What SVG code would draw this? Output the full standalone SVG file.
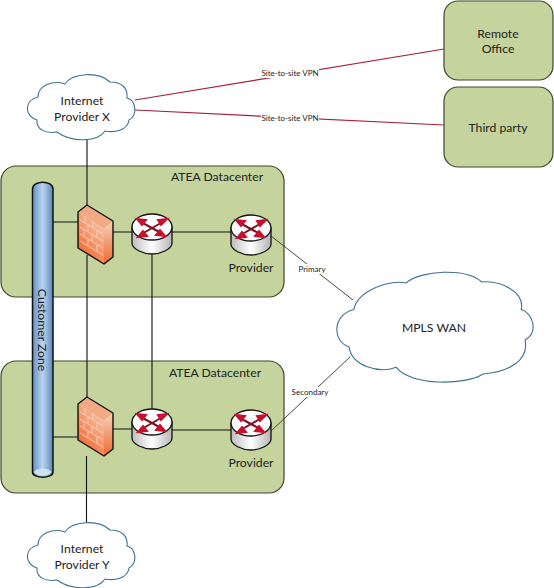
<svg xmlns="http://www.w3.org/2000/svg" width="554" height="588" viewBox="0 0 554 588">
<style>
.box{fill:#c4d49c;stroke:#3c4630;stroke-width:1.2}
.t{font-family:"Lato","Liberation Sans",sans-serif;font-size:12.2px;fill:#222;text-anchor:middle}
.s{font-family:"Lato","Liberation Sans",sans-serif;font-size:8px;fill:#1c1c1c;text-anchor:middle}
.k{fill:none;stroke:#111;stroke-width:1.1}
.r{fill:none;stroke:#a8203a;stroke-width:1.2}
.g{fill:none;stroke:#333;stroke-width:.9}
.lb{fill:#fff}
.cloud{fill:#fff;stroke:#3d7391;stroke-width:1.1}
.ar{stroke:#c8102e;stroke-width:2;fill:#c8102e}
</style>
<defs>
<linearGradient id="cyl" x1="0" x2="1" y1="0" y2="0"><stop offset="0" stop-color="#5f90c6"/><stop offset=".5" stop-color="#bcd5ee"/><stop offset="1" stop-color="#5a88ba"/></linearGradient>
<linearGradient id="rb" x1="0" x2="1" y1="0" y2="0"><stop offset="0" stop-color="#bdbdbd"/><stop offset=".5" stop-color="#fff"/><stop offset="1" stop-color="#b5b5b5"/></linearGradient>
<linearGradient id="fw" gradientUnits="userSpaceOnUse" x1="76" y1="250" x2="112" y2="222"><stop offset="0" stop-color="#f1642f"/><stop offset=".45" stop-color="#f59a6e"/><stop offset="1" stop-color="#efd9c6"/></linearGradient>
<linearGradient id="fw2g" gradientUnits="userSpaceOnUse" x1="109" y1="222" x2="109" y2="264"><stop offset="0" stop-color="#f3cfb6"/><stop offset="1" stop-color="#f0682f"/></linearGradient>
<g id="router">
<path d="M-20,-7 V9 C-20,15 -9,20 0,20 C9,20 20,15 20,9 V-7 Z" fill="url(#rb)" stroke="#111" stroke-width="1.3"/>
<ellipse cx="0" cy="-7" rx="20" ry="13" fill="#fff" stroke="#111" stroke-width="1.3"/>
<g class="ar">
<path d="M-13,-13 L11,0" fill="none" stroke="#7a1020"/><path d="M14,-14 L-12,1" fill="none" stroke="#7a1020"/>
<path d="M-15,-15 L-6,-14 L-10,-9 Z"/><path d="M13,2 L4,1 L8,-4 Z"/><path d="M15,-15 L6,-14 L9,-9 Z"/><path d="M-14,3 L-5,2 L-9,-3 Z"/>
</g>
</g>
<g id="firewall">
<path d="M78,212 L104,228 L104,264 L78,248 Z" fill="url(#fw)"/>
<path d="M78,212 L87,205 L113,221 L104,228 Z" fill="#f4a884"/>
<path d="M104,228 L113,221 L113,257 L104,264 Z" fill="url(#fw2g)"/>
<path d="M80,220 L103,234 M80,227 L103,241 M80,234 L103,248 M80,241 L103,255 M85,216 V223 M93,221 V228 M88,225 V232 M97,231 V238 M84,229 V236 M92,234 V241 M88,239 V246 M97,245 V252" fill="none" stroke="#fbd9c4" stroke-width=".8"/>
<path d="M78,212 L87,205 L113,221 L113,257 L104,264 L78,248 Z" fill="none" stroke="#111" stroke-width="1.4" stroke-linejoin="round"/>
</g>
<path id="c1" d="M9,35 C11,18 28,8 35.5,11.5 C43,0 66,-2 74,10.6 C84,9 96,20 94,35 C100,38 103,55 96,62 C98,80 88,90 74.6,92 C66,102 38,103 30.5,86 C22,92 8,85 6.6,68 C-2,63 -2,40 9,35 Z" vector-effect="non-scaling-stroke"/>
<path id="c2" d="M38,97 C38,85 53,80 65,84 C72,73 98,71 110,82 C122,82 128,88 127,98 C136,100 138,115 129,120 C128,130 115,133 105,131 C98,142 72,143 57,132 C45,134 36,129 37,120 C24,116 24,100 38,97 Z"/>
</defs>

<g id="dc1"><rect class="box" x="1" y="166" width="283" height="131" rx="15"/><text class="t" x="217" y="181">ATEA Datacenter</text></g>
<g id="dc2"><rect class="box" x="1" y="361" width="283" height="132" rx="15"/><text class="t" x="215" y="377">ATEA Datacenter</text></g>

<g id="connectors">
<path class="k" d="M87,139 V205 M87,255 V397 M86.500,456 V524 M53,222 H78 M113,232 H132 M172,232 H231 M152,255 V409 M53,437 H78 M113,429 H132 M172,430 H231"/>
<path class="g" d="M271,236 L353,300 M271,431 L350,357"/>
<path class="r" d="M135,100 L444,49 M135,110 L444,125"/>
</g>

<g id="customer-zone">
<path d="M32.500,189 C32.500,180 53,180 53,189 V472 C53,479 32.500,479 32.500,472 Z" fill="url(#cyl)" stroke="#111" stroke-width="1.5"/>
<ellipse cx="42.700" cy="472" rx="8" ry="3" fill="#cfe0ef" stroke="#dbe8f3" stroke-width=".8"/>
<text class="t" transform="translate(38,330) rotate(90)">Customer Zone</text>
</g>

<g id="fw1"><use href="#firewall"/></g>
<g id="fw2"><use href="#firewall" y="192"/></g>
<g id="router1"><use href="#router" x="152" y="234"/></g>
<g id="provider1"><use href="#router" x="251" y="235"/><text class="t" x="251" y="272">Provider</text></g>
<g id="router2"><use href="#router" x="152" y="429"/></g>
<g id="provider2"><use href="#router" x="251" y="430"/><text class="t" x="251" y="467">Provider</text></g>

<g id="internet-x"><use href="#c2" class="cloud"/><text class="t" x="82" y="105">Internet</text><text class="t" x="82" y="121">Provider X</text></g>
<g id="internet-y"><use href="#c2" class="cloud" y="448"/><text class="t" x="82" y="553">Internet</text><text class="t" x="82" y="569">Provider Y</text></g>
<g id="mpls"><use href="#c1" class="cloud" transform="translate(336,270) scale(1.97,1.13)"/><text class="t" x="434" y="332">MPLS WAN</text></g>

<g id="remote"><rect class="box" x="444" y="1" width="109" height="79" rx="14"/><text class="t" x="498" y="38">Remote</text><text class="t" x="498" y="53">Office</text></g>
<g id="third"><rect class="box" x="444" y="87" width="109" height="80" rx="14"/><text class="t" x="498" y="132">Third party</text></g>

<g id="labels">
<rect class="lb" x="261" y="69" width="58" height="9"/><text class="s" x="290" y="76">Site-to-site VPN</text>
<rect class="lb" x="261" y="113" width="58" height="9"/><text class="s" x="290" y="121">Site-to-site VPN</text>
<rect class="lb" x="298" y="264" width="29" height="10"/><text class="s" x="312" y="272">Primary</text>
<rect class="lb" x="290" y="387" width="40" height="10"/><text class="s" x="310" y="395">Secondary</text>
</g>
</svg>
